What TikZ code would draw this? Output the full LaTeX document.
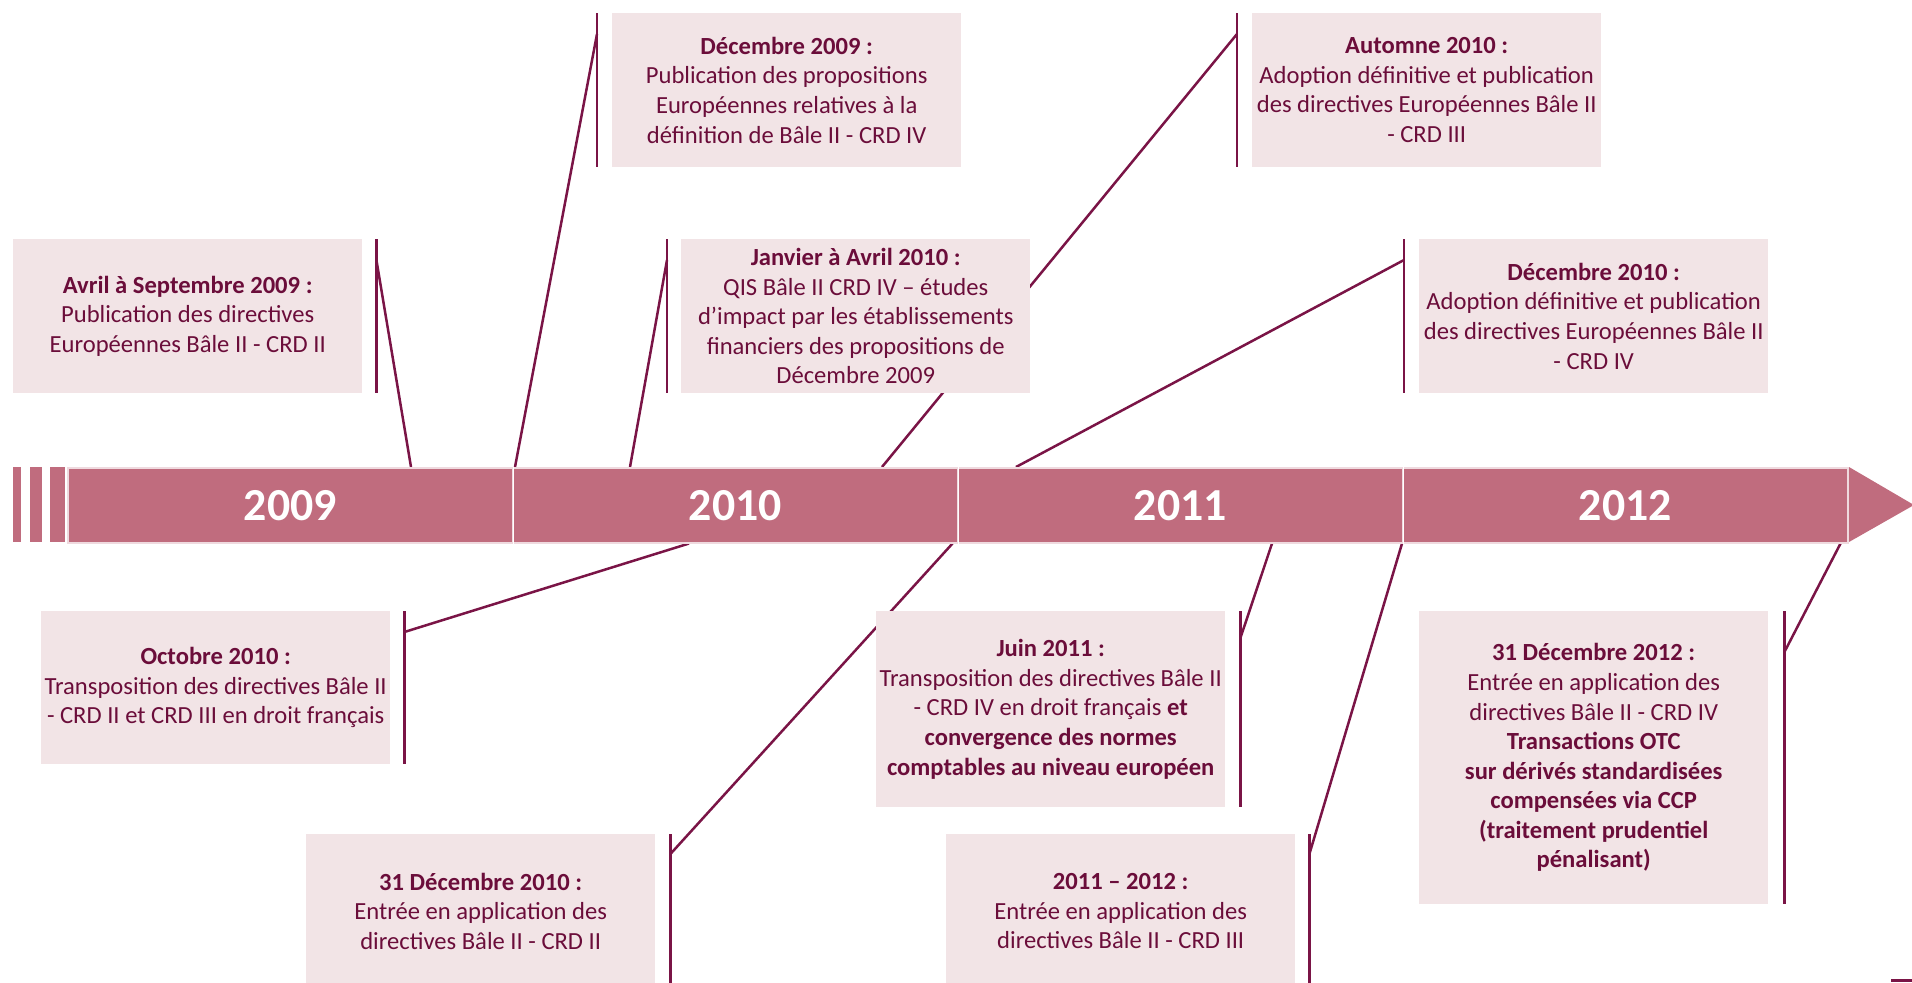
\documentclass[tikz,border=0pt]{standalone}
\usepackage{fontspec}
\setmainfont{Carlito}
\usetikzlibrary{backgrounds,calc}
\definecolor{barc}{HTML}{C06C7E}
\definecolor{boxc}{HTML}{F2E4E6}
\definecolor{txtc}{HTML}{6B0D3A}
\definecolor{linec}{HTML}{7A1446}
\begin{document}
\begin{tikzpicture}[x=1bp,y=-1bp,
  evbox/.style={fill=boxc, text=txtc, align=center, minimum width=349bp, inner sep=0pt,
    font=\fontsize{24.7}{29.7}\selectfont, anchor=north west},
  seg/.style={fill=barc, draw=white!75!barc, line width=1.5bp, minimum width=445bp, minimum height=75bp,
    inner sep=0pt, text=white, font=\bfseries\fontsize{46}{50}\selectfont, anchor=north west},
  stripe/.style={fill=barc},
  conn/.style={draw=linec, line width=2.5bp}]
\useasboundingbox (0,0) rectangle (1912,982);
\clip (0,0) rectangle (1912,982);

% timeline bar
\fill[stripe] (13,467) rectangle (21,542);
\fill[stripe] (30,467) rectangle (42,542);
\fill[stripe] (50,467) rectangle (65,542);
\node[seg] (y2009) at (67,467) {2009};
\node[seg] (y2010) at (512,467) {2010};
\node[seg] (y2011) at (957,467) {2011};
\node[seg] (y2012) at (1402,467) {2012};
\draw[white, line width=1.5bp] (y2009.north east) -- (y2009.south east);
\draw[white, line width=1.5bp] (y2010.north east) -- (y2010.south east);
\draw[white, line width=1.5bp] (y2011.north east) -- (y2011.south east);
\fill[barc] (1849,467) -- (1914,505) -- (1849,542) -- cycle;

% upper boxes
\node[evbox, minimum height=154bp] (b1) at (13,239)
  {\textbf{Avril à Septembre 2009 :}\\Publication des directives\\Européennes Bâle II - CRD II};
\node[evbox, minimum height=154bp] (b2) at (612,13)
  {\textbf{Décembre 2009 :}\\Publication des propositions\\Européennes relatives à la\\définition de Bâle II - CRD IV};
\node[evbox, minimum height=154bp] (b3) at (681,239)
  {\textbf{Janvier à Avril 2010 :}\\QIS Bâle II CRD IV – études\\d’impact par les établissements\\financiers des propositions de\\Décembre 2009};
\node[evbox, minimum height=154bp] (b4) at (1252,13)
  {\textbf{Automne 2010 :}\\Adoption définitive et publication\\des directives Européennes Bâle II\\- CRD III};
\node[evbox, minimum height=154bp] (b5) at (1419,239)
  {\textbf{Décembre 2010 :}\\Adoption définitive et publication\\des directives Européennes Bâle II\\- CRD IV};

% lower boxes
\node[evbox, minimum height=153bp] (b6) at (41,611)
  {\textbf{Octobre 2010 :}\\Transposition des directives Bâle II\\- CRD II et CRD III en droit français};
\node[evbox, minimum height=196bp] (b7) at (876,611)
  {\textbf{Juin 2011 :}\\Transposition des directives Bâle II\\- CRD IV en droit français \textbf{et}\\\textbf{convergence des normes}\\\textbf{comptables au niveau européen}};
\node[evbox, minimum height=154bp] (b8) at (306,834)
  {\textbf{31 Décembre 2010 :}\\Entrée en application des\\directives Bâle II - CRD II};
\node[evbox, minimum height=154bp] (b9) at (946,834)
  {\textbf{2011 – 2012 :}\\Entrée en application des\\directives Bâle II - CRD III};
\node[evbox, minimum height=293bp] (b10) at (1419,611)
  {\textbf{31 Décembre 2012 :}\\Entrée en application des\\directives Bâle II - CRD IV\\\textbf{Transactions OTC}\\\textbf{sur dérivés standardisées}\\\textbf{compensées via CCP}\\\textbf{(traitement prudentiel}\\\textbf{pénalisant)}};

% connectors
\begin{scope}[on background layer]
  % upper
  \draw[conn] ($(b1.north east)+(14,0)$) -- ($(b1.south east)+(14,0)$);
  \draw[conn] ($(b1.north east)+(14,21)$) coordinate (c1) -- ($(y2009.north west)+(344,0)$) coordinate (t1);
  \draw[conn] ($(b2.north west)+(-15,0)$) -- ($(b2.south west)+(-15,0)$);
  \draw[conn] ($(b2.north west)+(-15,21)$) coordinate (c2) -- ($(y2010.north west)+(3,0)$) coordinate (t2);
  \draw[conn] ($(b3.north west)+(-14,0)$) -- ($(b3.south west)+(-14,0)$);
  \draw[conn] ($(b3.north west)+(-14,21)$) coordinate (c3) -- ($(y2010.north west)+(118,0)$) coordinate (t3);
  \draw[conn] ($(b4.north west)+(-15,0)$) -- ($(b4.south west)+(-15,0)$);
  \draw[conn] ($(b4.north west)+(-15,21)$) coordinate (c4) -- ($(y2010.north west)+(370,0)$) coordinate (t4);
  \draw[conn] ($(b5.north west)+(-15,0)$) -- ($(b5.south west)+(-15,0)$);
  \draw[conn] ($(b5.north west)+(-15,21)$) coordinate (c5) -- ($(y2011.north west)+(59,0)$) coordinate (t5);
  % lower
  \draw[conn] ($(b6.north east)+(14,0)$) -- ($(b6.south east)+(14,0)$);
  \draw[conn] ($(b6.north east)+(14,21)$) coordinate (c6) -- ($(y2010.south west)+(177,0)$) coordinate (t6);
  \draw[conn] ($(b7.north east)+(15,0)$) -- ($(b7.south east)+(15,0)$);
  \draw[conn] ($(b7.north east)+(15,27)$) coordinate (c7) -- ($(y2011.south west)+(315,0)$) coordinate (t7);
  \draw[conn] ($(b8.north east)+(15,0)$) -- ($(b8.south east)+(15,0)$);
  \draw[conn] ($(b8.north east)+(15,20)$) coordinate (c8) -- ($(y2010.south east)+(-6,0)$) coordinate (t8);
  \draw[conn] ($(b9.north east)+(14,0)$) -- ($(b9.south east)+(14,0)$);
  \draw[conn] ($(b9.north east)+(14,20)$) coordinate (c9) -- ($(y2012.south west)+(0,0)$) coordinate (t9);
  \draw[conn] ($(b10.north east)+(16,0)$) -- ($(b10.south east)+(16,0)$);
  \draw[conn] ($(b10.north east)+(16,41)$) coordinate (c10) -- ($(y2012.south east)+(-8,0)$) coordinate (t10);
\end{scope}

% small mark bottom right
\fill[linec] (1891,979) rectangle (1912,982);
\end{tikzpicture}
\end{document}
